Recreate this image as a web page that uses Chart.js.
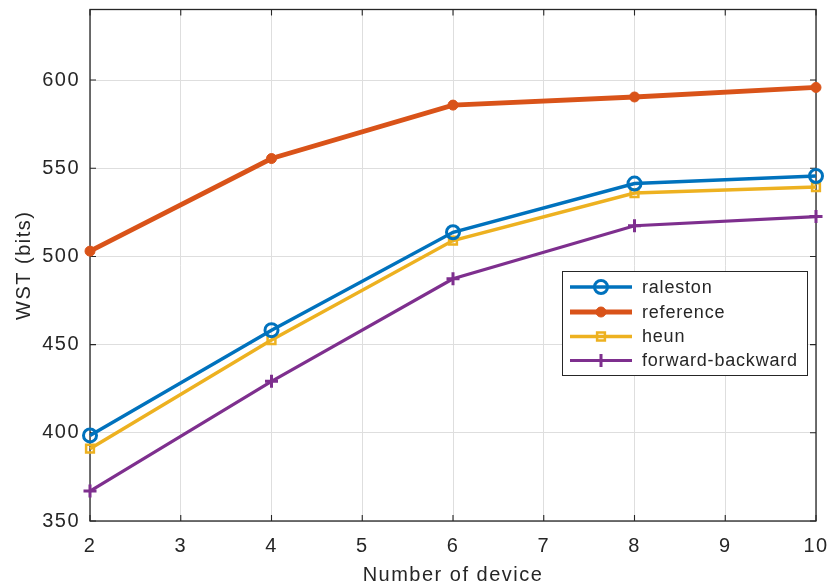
<!DOCTYPE html>
<html>
<head>
<meta charset="utf-8">
<script src="https://cdn.jsdelivr.net/npm/chart.js@4/dist/chart.umd.min.js"></script>
<style>
html,body{margin:0;padding:0;background:#fff;}
#wrap{width:831px;height:587px;}
</style>
</head>
<body>
<div id="wrap"><canvas id="c" width="831" height="587"></canvas></div>
<script>
const devices = [2, 4, 6, 8, 10];
const raleston = [398.5, 458.2, 513.7, 541.3, 545.6];
const referenceVals = [503.0, 555.5, 585.8, 590.4, 595.8];
const heun = [391.0, 452.6, 509.0, 535.9, 539.3];
const forwardBackward = [367.0, 429.2, 487.3, 517.4, 522.6];
const seriesNames = ['raleston', 'reference', 'heun', 'forward-backward'];
const xTicks = [2, 3, 4, 5, 6, 7, 8, 9, 10];
const yTicks = [350, 400, 450, 500, 550, 600];

const FONT = "'Liberation Sans', Arial, sans-serif";
const pts = arr => devices.map((d, i) => ({x: d, y: arr[i]}));

const datasets = [
  {label: seriesNames[0], data: pts(raleston), borderColor: '#0072BD', backgroundColor: 'rgba(0,0,0,0)',
   borderWidth: 3.5, pointStyle: 'circle', pointRadius: 6.5, pointBorderWidth: 3, pointBackgroundColor: 'rgba(0,0,0,0)', pointBorderColor: '#0072BD'},
  {label: seriesNames[1], data: pts(referenceVals), borderColor: '#D95319', backgroundColor: '#D95319',
   borderWidth: 4.8, pointStyle: 'circle', pointRadius: 5, pointBorderWidth: 1, pointBackgroundColor: '#D95319', pointBorderColor: '#D95319'},
  {label: seriesNames[2], data: pts(heun), borderColor: '#EDB120', backgroundColor: 'rgba(0,0,0,0)',
   borderWidth: 3.5, pointStyle: 'rect', pointRadius: 5.5, pointBorderWidth: 2.5, pointBackgroundColor: 'rgba(0,0,0,0)', pointBorderColor: '#EDB120'},
  {label: seriesNames[3], data: pts(forwardBackward), borderColor: '#7E2F8E', backgroundColor: '#7E2F8E',
   borderWidth: 3.2, pointStyle: 'cross', pointRadius: 6.5, pointBorderWidth: 3, pointBackgroundColor: '#7E2F8E', pointBorderColor: '#7E2F8E'}
];
datasets.forEach(d => { d.tension = 0; d.clip = false; d.pointHoverRadius = d.pointRadius; });

const spacingPlugin = {
  id: 'spacing',
  beforeInit(chart) { chart.ctx.letterSpacing = '1.5px'; },
  beforeLayout(chart) { chart.ctx.letterSpacing = '1.5px'; },
  beforeDraw(chart) { chart.ctx.letterSpacing = '1.5px'; }
};

const framePlugin = {
  id: 'frame',
  beforeDatasetsDraw(chart) {
    const {ctx, chartArea: a, scales} = chart;
    ctx.save();
    ctx.strokeStyle = '#262626';
    ctx.lineWidth = 1.3;
    ctx.strokeRect(a.left, a.top, a.right - a.left, a.bottom - a.top);
    ctx.lineWidth = 1.1;
    const tl = 6;
    ctx.beginPath();
    xTicks.forEach(v => {
      const x = scales.x.getPixelForValue(v);
      ctx.moveTo(x, a.bottom); ctx.lineTo(x, a.bottom - tl);
      ctx.moveTo(x, a.top); ctx.lineTo(x, a.top + tl);
    });
    yTicks.forEach(v => {
      const y = scales.y.getPixelForValue(v);
      ctx.moveTo(a.left, y); ctx.lineTo(a.left + tl, y);
      ctx.moveTo(a.right, y); ctx.lineTo(a.right - tl, y);
    });
    ctx.stroke();
    ctx.restore();
  },
  afterDraw(chart) {
    const {ctx} = chart;
    const bx = 562, by = 271, bw = 245, bh = 104;
    ctx.save();
    ctx.fillStyle = '#fff';
    ctx.fillRect(bx, by, bw, bh);
    ctx.strokeStyle = '#262626';
    ctx.lineWidth = 1;
    ctx.strokeRect(bx + 0.5, by + 0.5, bw, bh);
    const rowY = [287, 312, 336.5, 360.5];
    chart.data.datasets.forEach((ds, i) => {
      const y = rowY[i];
      ctx.strokeStyle = ds.borderColor;
      ctx.lineWidth = ds.borderWidth;
      ctx.beginPath();
      ctx.moveTo(570, y); ctx.lineTo(632, y);
      ctx.stroke();
      ctx.fillStyle = ds.pointBackgroundColor;
      ctx.strokeStyle = ds.pointBorderColor;
      ctx.lineWidth = ds.pointBorderWidth;
      Chart.helpers.drawPoint(ctx, {pointStyle: ds.pointStyle, radius: ds.pointRadius, borderWidth: ds.pointBorderWidth, rotation: 0}, 601, y);
      ctx.fillStyle = '#262626';
      ctx.font = '18px ' + FONT;
      ctx.letterSpacing = '0.8px';
      ctx.textBaseline = 'middle';
      ctx.textAlign = 'left';
      ctx.fillText(ds.label, 642, y + 1);
    });
    ctx.restore();
  }
};

new Chart(document.getElementById('c'), {
  type: 'line',
  data: {datasets},
  options: {
    responsive: false,
    animation: false,
    devicePixelRatio: 1,
    layout: {padding: {left: 0, right: 15, top: 8, bottom: 0}},
    plugins: {legend: {display: false}, tooltip: {enabled: false}},
    scales: {
      x: {
        type: 'linear', min: 2, max: 10,
        afterBuildTicks: s => { s.ticks = xTicks.map(v => ({value: v})); },
        afterFit: s => { s.height = 66; s.paddingLeft = 0; s.paddingRight = 0; },
        ticks: {stepSize: 1, color: '#262626', font: {family: FONT, size: 20}, padding: 13, maxRotation: 0},
        grid: {color: '#dedede', lineWidth: 1, drawTicks: false},
        border: {display: false},
        title: {display: true, text: 'Number of device', color: '#262626', font: {family: FONT, size: 20}, padding: {top: 2, bottom: 0}}
      },
      y: {
        type: 'linear', min: 350, max: 640,
        afterBuildTicks: s => { s.ticks = yTicks.map(v => ({value: v})); },
        afterFit: s => { s.width = 90; s.paddingTop = 0; s.paddingBottom = 0; },
        ticks: {stepSize: 50, color: '#262626', font: {family: FONT, size: 20}, padding: 10},
        grid: {color: '#dedede', lineWidth: 1, drawTicks: false},
        border: {display: false},
        title: {display: true, text: 'WST (bits)', color: '#262626', font: {family: FONT, size: 20}, padding: {top: 12, bottom: 0}}
      }
    }
  },
  plugins: [spacingPlugin, framePlugin]
});
</script>
</body>
</html>
